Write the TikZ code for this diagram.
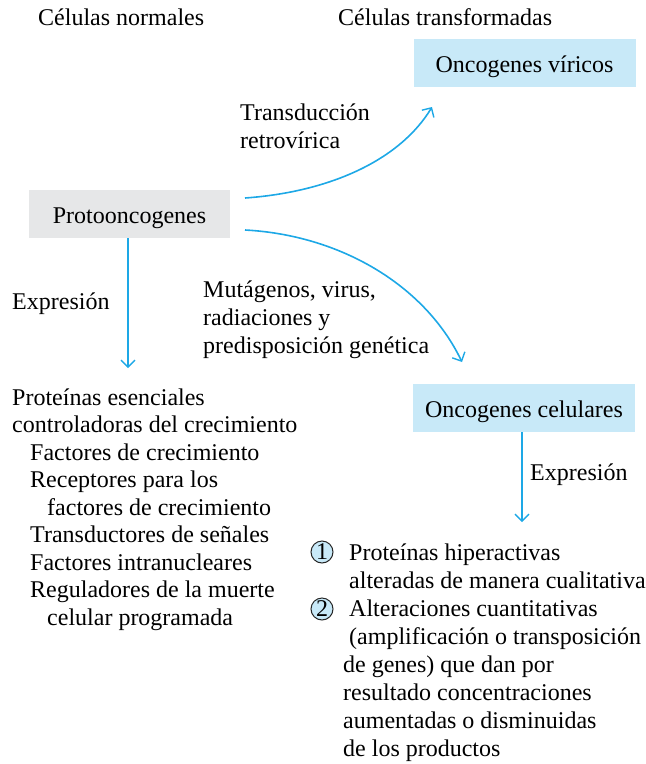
\documentclass[tikz,border=0pt]{standalone}
\usepackage{fontspec}
\setmainfont{Liberation Serif}
\usetikzlibrary{arrows.meta}
\definecolor{arrblue}{HTML}{1DA8E6}
\definecolor{boxblue}{HTML}{C8E9F8}
\definecolor{boxgray}{HTML}{E6E7E8}
\tikzset{
  txt/.style={font=\fontsize{24}{27.5}\selectfont, inner sep=0pt, anchor=base west, align=left},
  boxbase/.style={minimum height=48pt, inner sep=0pt, text height=18pt, text depth=0pt, font=\fontsize{24}{27.5}\selectfont},
  bluebox/.style={boxbase, fill=boxblue, minimum width=222pt},
  graybox/.style={boxbase, fill=boxgray, minimum width=201pt},
  arr/.style={draw=arrblue, line width=1.6pt, -{Straight Barb[length=7pt,width=14pt,line width=1.4pt]}},
  numc/.style={circle, draw=black!85, fill=boxblue, line width=1pt, minimum size=22pt, inner sep=0pt, font=\fontsize{24}{24}\selectfont}
}
\begin{document}
\begin{tikzpicture}[x=1pt,y=-1pt]
\useasboundingbox (0,0) rectangle (646,764);
\node[txt] (hn) at (38,25) {Células normales};
\node[txt] (ht) at (338,25) {Células transformadas};
\node[bluebox] (vir) at (524.5,63) {Oncogenes víricos};
\node[graybox] (proto) at (129.5,214) {Protooncogenes};
\node[bluebox] (cel) at (524,408) {Oncogenes celulares};
\node[txt] (trans) at (240,148) {Transducción\\retrovírica};
\node[txt] (expl) at (12,309) {Expresión};
\node[txt, font=\fontsize{24}{28}\selectfont] (mut) at (203,353) {Mutágenos, virus,\\radiaciones y\\predisposición genética};
\node[txt] (expr) at (530,480) {Expresión};
\node[txt] (list) at (12,625) {Proteínas esenciales\\controladoras del crecimiento\\
\hspace*{18pt}Factores de crecimiento\\
\hspace*{18pt}Receptores para los\\
\hspace*{35pt}factores de crecimiento\\
\hspace*{18pt}Transductores de señales\\
\hspace*{18pt}Factores intranucleares\\
\hspace*{18pt}Reguladores de la muerte\\
\hspace*{35pt}celular programada};
\node[txt, font=\fontsize{24}{28}\selectfont] (res) at (343,756) {\hspace*{6pt}Proteínas hiperactivas\\
\hspace*{6pt}alteradas de manera cualitativa\\
\hspace*{6pt}Alteraciones cuantitativas\\
\hspace*{6pt}(amplificación o transposición\\
de genes) que dan por\\
resultado concentraciones\\
aumentadas o disminuidas\\
de los productos};
\node[numc] (c1) at (322,552) {1};
\node[numc] (c2) at (322,609) {2};
\coordinate (a1s) at (245,198);
\coordinate (a1e) at (432,107);
\coordinate (a2s) at (245,230);
\coordinate (a2e) at (462,362);
\coordinate (a3e) at (128,368);
\coordinate (a4e) at (522,522);
\draw[arr] (a1s) .. controls (330,192) and (400,160) .. (a1e);
\draw[arr] (a2s) .. controls (340,235) and (425,285) .. (a2e);
\draw[arr] (proto.south -| a3e) -- (a3e);
\draw[arr] (cel.south -| a4e) -- (a4e);
\end{tikzpicture}
\end{document}
